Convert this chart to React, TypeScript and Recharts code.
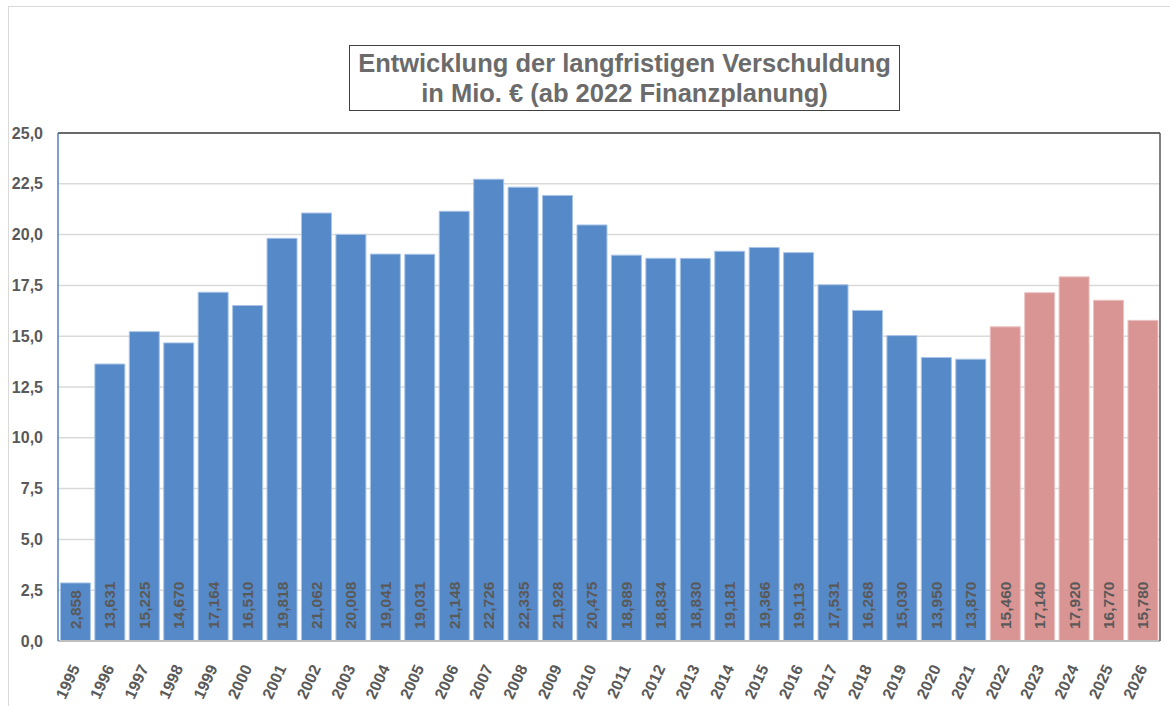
import React from 'react'
import { BarChart, Bar, XAxis, YAxis, CartesianGrid, Cell, LabelList, ReferenceLine } from 'recharts'

const years = [
  '1995', '1996', '1997', '1998', '1999', '2000', '2001', '2002', '2003', '2004', '2005',
  '2006', '2007', '2008', '2009', '2010', '2011', '2012', '2013', '2014', '2015', '2016',
  '2017', '2018', '2019', '2020', '2021', '2022', '2023', '2024', '2025', '2026',
]

const debt = [
  2.858, 13.631, 15.225, 14.67, 17.164, 16.51, 19.818, 21.062, 20.008, 19.041, 19.031,
  21.148, 22.726, 22.335, 21.928, 20.475, 18.989, 18.834, 18.83, 19.181, 19.366, 19.113,
  17.531, 16.268, 15.03, 13.95, 13.87, 15.46, 17.14, 17.92, 16.77, 15.78,
]

// ab 2022 Finanzplanung
const planned = years.map((y) => Number(y) >= 2022)

const yTicks = [0, 2.5, 5, 7.5, 10, 12.5, 15, 17.5, 20, 22.5, 25]

const BLUE = '#5689c8'
const RED = '#d99593'
const TEXT = '#595959'

const data = years.map((year, i) => ({ year, value: debt[i], planned: planned[i] }))

const fmt = (v: number, d: number) => v.toFixed(d).replace('.', ',')

const YearTick = (props: any) => {
  const { x, y, payload } = props
  return (
    <text
      transform={`translate(${x + 5}, ${y + 19}) rotate(-65)`}
      textAnchor="end"
      fontSize={16}
      fontWeight="bold"
      fill={TEXT}
      fontFamily="Liberation Sans, Arial, sans-serif"
    >
      {payload.value}
    </text>
  )
}

const ValueLabel = (props: any) => {
  const { x, y, width, height, value } = props
  const cx = x + width / 2
  const cy = y + height - 12
  return (
    <text
      transform={`translate(${cx}, ${cy}) rotate(-90)`}
      textAnchor="start"
      dominantBaseline="central"
      fontSize={15.5}
      fontWeight="bold"
      fill={TEXT}
      fontFamily="Liberation Sans, Arial, sans-serif"
    >
      {fmt(value, 3)}
    </text>
  )
}

export default function App() {
  return (
    <div style={{ position: 'absolute', left: 0, top: 0, width: 1170, height: 706, background: '#fff', fontFamily: 'Liberation Sans, Arial, sans-serif' }}>
      <div style={{ position: 'absolute', left: 8, top: 6, width: 1170, height: 720, border: '1.5px solid #d9d9d9' }} />
      <BarChart
        width={1170}
        height={706}
        data={data}
        margin={{ top: 133, right: 0, left: 0, bottom: 0 }}
        barCategoryGap="7%"
      >
        <CartesianGrid vertical={false} stroke="#d9d9d9" strokeWidth={1.5} />
        <XAxis
          dataKey="year"
          height={65}
          interval={0}
          tickLine={false}
          axisLine={{ stroke: '#bfbfbf', strokeWidth: 2 }}
          tick={<YearTick />}
        />
        <YAxis
          width={58}
          domain={[0, 25]}
          ticks={yTicks}
          tickLine={false}
          tickMargin={9}
          axisLine={{ stroke: '#4f81bd', strokeWidth: 1.5 }}
          tickFormatter={(v: number) => fmt(v, 1)}
          tick={{ fontSize: 16, fontWeight: 'bold', fill: TEXT }}
        />
        <YAxis
          yAxisId="r"
          orientation="right"
          width={10}
          domain={[0, 25]}
          tick={false}
          tickLine={false}
          axisLine={{ stroke: '#595959', strokeWidth: 1.5 }}
        />
        <ReferenceLine y={25} stroke="#404040" strokeWidth={1.5} />
        <Bar dataKey="value" isAnimationActive={false} strokeWidth={1}>
          {data.map((d) => (
            <Cell key={d.year} fill={d.planned ? RED : BLUE} stroke={d.planned ? '#ebc3c2' : '#a9c4e6'} />
          ))}
          <LabelList dataKey="value" content={<ValueLabel />} />
        </Bar>
      </BarChart>
      <div
        style={{
          position: 'absolute',
          left: 349,
          top: 45,
          width: 549,
          height: 62,
          border: '1.5px solid #404040',
          color: '#6b6b6b',
          fontSize: 25.5,
          fontWeight: 'bold',
          textAlign: 'center',
          lineHeight: '30px',
          paddingTop: 2,
          boxSizing: 'content-box',
        }}
      >
        Entwicklung der langfristigen Verschuldung
        <br />
        in Mio. € (ab 2022 Finanzplanung)
      </div>
    </div>
  )
}
